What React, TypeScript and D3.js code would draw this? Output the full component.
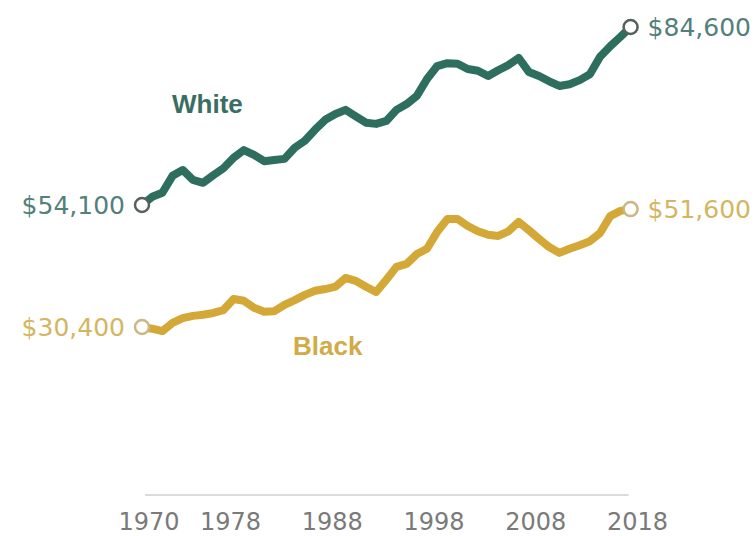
import React from "react";
import * as d3 from "d3";

const years: number[] = d3.range(1970, 2019);

// Median income in thousands of dollars
const whiteValues: number[] = [
  54.1, 55.5, 56.2, 59.1, 60.1, 58.4, 57.9, 59.2, 60.4, 62.2,
  63.5, 62.7, 61.6, 61.8, 62.0, 63.9, 65.1, 67.0, 68.7, 69.7,
  70.4, 69.3, 68.2, 68.0, 68.5, 70.4, 71.4, 72.8, 75.7, 77.9,
  78.4, 78.3, 77.4, 77.1, 76.2, 77.2, 78.1, 79.3, 76.9, 76.2,
  75.3, 74.5, 74.8, 75.5, 76.5, 79.5, 81.3, 82.9, 84.6,
];

const blackValues: number[] = [
  33.2, 32.9, 32.5, 33.9, 34.7, 35.1, 35.3, 35.6, 36.1, 38.0,
  37.7, 36.5, 35.8, 35.9, 37.0, 37.8, 38.7, 39.4, 39.7, 40.1,
  41.6, 41.1, 40.1, 39.2, 41.3, 43.5, 44.0, 45.7, 46.6, 49.5,
  51.7, 51.7, 50.5, 49.6, 49.0, 48.8, 49.6, 51.2, 49.8, 48.3,
  46.9, 45.9, 46.6, 47.2, 47.9, 49.3, 52.2, 53.1, 53.4,
];

const tickYears: number[] = [1970, 1978, 1988, 1998, 2008, 2018];
const seriesNames: string[] = ["White", "Black"];
const startLabels: string[] = ["$54,100", "$30,400"];
const endLabels: string[] = ["$84,600", "$51,600"];

const W = 756;
const H = 536;

const lineColors = ["#2d6e5e", "#d3a836"];
const labelColors = ["#53807a", "#d4b662"];
const nameColors = ["#3a6e62", "#d2aa48"];
const circleStroke = ["#56605d", "#cbb783"];

export default function App() {
  const x = d3.scaleLinear().domain([1970, 2018]).range([142, 630.6]);
  const y = d3.scaleLinear().domain([54.1, 84.6]).range([205, 27]);

  const line = d3
    .line<number>()
    .x((_, i) => x(years[i]))
    .y((d) => y(d))
    .curve(d3.curveLinear);

  const series = [whiteValues, blackValues];
  const numFont = "'DejaVu Sans', sans-serif";
  const boldFont = "'Liberation Sans', Arial, sans-serif";

  return (
    <div style={{ position: "fixed", left: 0, top: 0 }}>
      <svg width={W} height={H} style={{ display: "block", background: "#fff" }}>
        {/* x axis */}
        <line x1={x(1970) + 3} x2={x(2018) - 2} y1={495} y2={495} stroke="#cfcfcf" strokeWidth={1.5} />
        {tickYears.map((t) => (
          <text
            key={t}
            x={x(t) + 7}
            y={530}
            textAnchor="middle"
            fontFamily={numFont}
            fontSize={24}
            fill="#7a7a7a"
          >
            {t}
          </text>
        ))}

        {series.map((vals, s) => (
          <g key={seriesNames[s]}>
            <path
              d={line(vals) || ""}
              fill="none"
              stroke={lineColors[s]}
              strokeWidth={8}
              strokeLinejoin="round"
              strokeLinecap="round"
            />
            <circle cx={x(years[0])} cy={y(vals[0])} r={7} fill="#fff" stroke={circleStroke[s]} strokeWidth={2.5} />
            <circle
              cx={x(years[years.length - 1])}
              cy={y(vals[vals.length - 1])}
              r={7}
              fill="#fff"
              stroke={circleStroke[s]}
              strokeWidth={2.5}
            />
            <text
              x={x(years[0]) - 17}
              y={y(vals[0])}
              dy="0.36em"
              textAnchor="end"
              fontFamily={numFont}
              fontSize={25}
              fill={labelColors[s]}
            >
              {startLabels[s]}
            </text>
            <text
              x={x(years[years.length - 1]) + 17}
              y={y(vals[vals.length - 1])}
              dy="0.36em"
              textAnchor="start"
              fontFamily={numFont}
              fontSize={25}
              fill={labelColors[s]}
            >
              {endLabels[s]}
            </text>
          </g>
        ))}

        <text x={172} y={113} fontFamily={boldFont} fontWeight="bold" fontSize={26} fill={nameColors[0]}>
          {seriesNames[0]}
        </text>
        <text x={293} y={355} fontFamily={boldFont} fontWeight="bold" fontSize={26} fill={nameColors[1]}>
          {seriesNames[1]}
        </text>
      </svg>
    </div>
  );
}
